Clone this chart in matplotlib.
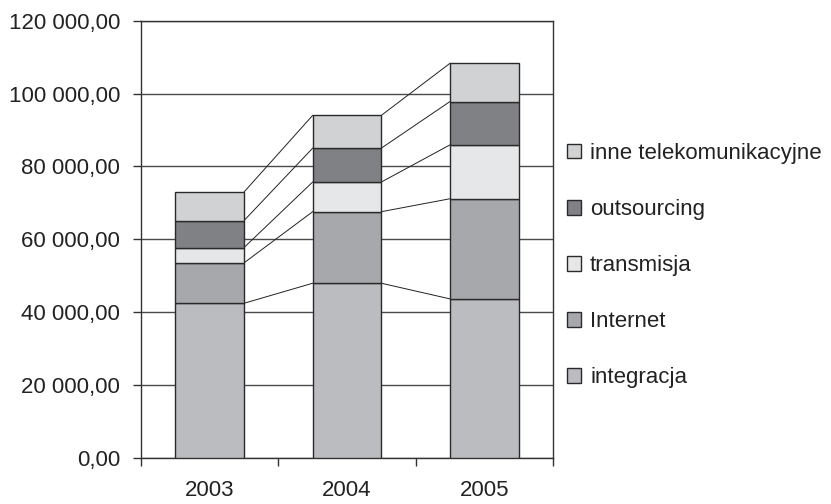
import numpy as np
import matplotlib
matplotlib.use("Agg")
import matplotlib.pyplot as plt
from matplotlib.ticker import FuncFormatter

plt.rcParams['font.family'] = ['Liberation Sans', 'DejaVu Sans']

years = ['2003', '2004', '2005']

# segment values per year (stacked from bottom to top)
integracja = [42400, 47900, 43600]
internet = [11100, 19650, 27500]
transmisja = [4200, 8150, 14800]
outsourcing = [7400, 9300, 11900]
inne = [7850, 9000, 10500]

series = [
    ('integracja', integracja, '#bbbcbf'),
    ('Internet', internet, '#a7a8ab'),
    ('transmisja', transmisja, '#e6e7e8'),
    ('outsourcing', outsourcing, '#808184'),
    ('inne telekomunikacyjne', inne, '#d1d2d4'),
]

fig = plt.figure(figsize=(8.31, 5.04), dpi=100)
ax = fig.add_axes([0.1697, 0.0919, 0.4958, 0.8671])

x = np.arange(len(years))
w = 0.5
bottom = np.zeros(len(years))
handles = []
for name, vals, col in series:
    vals = np.array(vals, dtype=float)
    h = ax.bar(x, vals, w, bottom=bottom, color=col, edgecolor='#2a2a2a',
               linewidth=1.0, label=name, zorder=3)
    handles.append(h)
    bottom = bottom + vals
    # series lines joining the tops of the segments
    for i in range(len(years) - 1):
        ax.plot([x[i] + w / 2, x[i + 1] - w / 2], [bottom[i], bottom[i + 1]],
                color='#222222', linewidth=0.7, zorder=2)

ax.set_xlim(-0.5, 2.5)
ax.set_ylim(0, 120000)
ax.set_yticks(np.arange(0, 120001, 20000))
ax.yaxis.set_major_formatter(FuncFormatter(
    lambda v, p: f"{v:,.2f}".replace(",", " ").replace(".", ",")))
ax.yaxis.grid(True, color='#4a4a4a', linewidth=1.0, zorder=0)
ax.set_axisbelow(True)

# boundary ticks between categories, labels centred under bars
ax.set_xticks([-0.5, 0.5, 1.5, 2.5])
ax.set_xticklabels([])
ax.set_xticks(x, minor=True)
ax.set_xticklabels(years, minor=True)
ax.tick_params(axis='x', which='minor', length=0, pad=16, labelsize=16,
               labelcolor='#222222')
ax.tick_params(axis='x', which='major', length=6, width=1, color='#333333')
ax.tick_params(axis='y', length=6, width=1, color='#333333', pad=9,
               labelsize=16, labelcolor='#222222')

for s in ax.spines.values():
    s.set_color('#333333')
    s.set_linewidth(1.0)

leg = fig.legend(handles[::-1], [s[0] for s in series][::-1],
                 loc='center left', bbox_to_anchor=(0.682, 0.473),
                 frameon=False, fontsize=16, handlelength=0.65,
                 handleheight=0.65, handletextpad=0.4, labelspacing=1.58,
                 borderpad=0, borderaxespad=0)
for t in leg.get_texts():
    t.set_color('#222222')

fig.savefig('out.png', dpi=100)
